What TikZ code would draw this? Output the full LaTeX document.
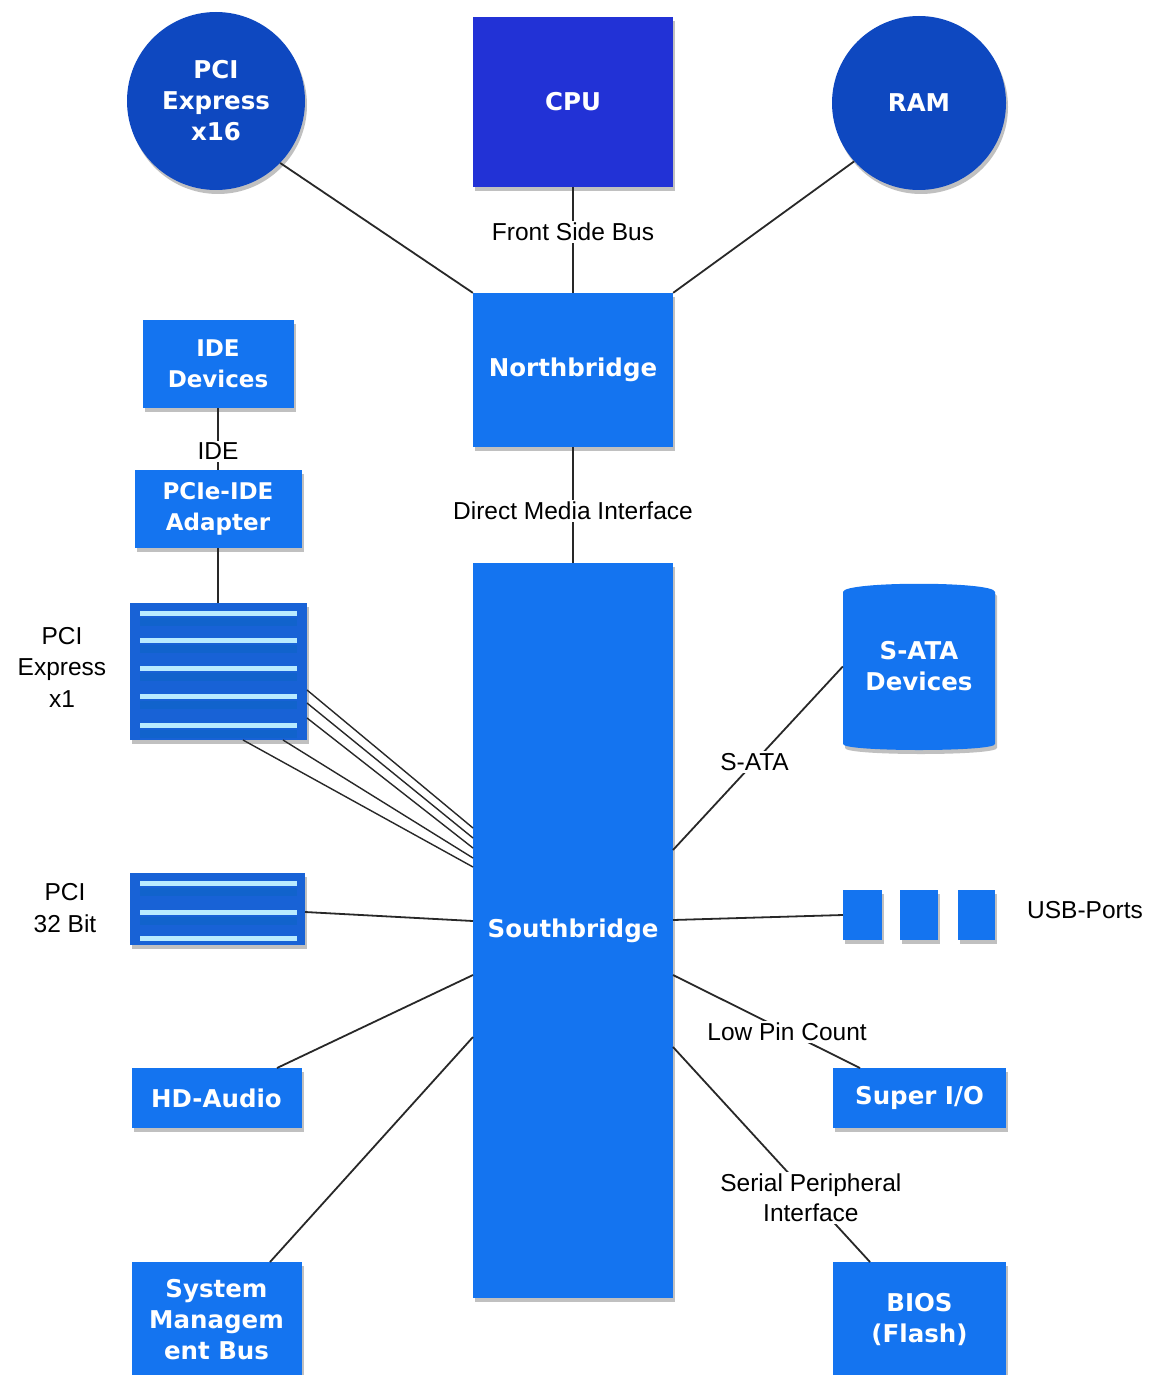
\documentclass[tikz,border=0pt]{standalone}
\usepackage{fontspec}
\setmainfont{Liberation Sans}
\newfontfamily\wf{DejaVu Sans}
\usetikzlibrary{shadows,calc}
\definecolor{lightb}{RGB}{20,116,240}
\definecolor{darkb}{RGB}{14,72,192}
\definecolor{cpub}{RGB}{34,50,214}
\definecolor{slotb}{RGB}{24,98,214}
\definecolor{stripe}{RGB}{185,235,255}
\definecolor{line}{RGB}{40,40,40}
\tikzset{
  shad/.style={drop shadow={shadow xshift=2pt,shadow yshift=-4pt,opacity=.35,fill=black!70}},
  box/.style={rectangle,fill=lightb,text=white,align=center,inner sep=0pt,shad,
    font=\wf\bfseries\fontsize{24.5}{31}\selectfont},
  circ/.style={circle,fill=darkb,text=white,align=center,inner sep=0pt,shad,
    font=\wf\bfseries\fontsize{24.5}{31}\selectfont},
  lab/.style={fill=white,text=black,inner sep=2pt,align=center,
    font=\fontsize{24.5}{30}\selectfont},
  plainlab/.style={text=black,inner sep=0pt,align=center,
    font=\fontsize{24.5}{31.5}\selectfont},
  conn/.style={draw=line,line width=1.8pt},
}
\begin{document}
\begin{tikzpicture}[x=1pt,y=-1pt]
\useasboundingbox (0,0) rectangle (1153,1375);
\fill[white] (0,0) rectangle (1153,1375);

\node[circ,minimum size=178] (pcie16) at (216,101) {PCI\\Express\\x16};
\node[box,fill=cpub,minimum width=200,minimum height=170] (cpu) at (573,102) {CPU};
\node[circ,minimum size=174] (ram) at (919,103) {RAM};
\node[box,minimum width=200,minimum height=154] (nb) at (573,370) {Northbridge};
\node[box,minimum width=200,minimum height=735] (sb) at (573,930.5) {Southbridge};

\node[box,minimum width=151,minimum height=88,font=\wf\bfseries\fontsize{23}{31}\selectfont] (ide) at (218,364) {IDE\\Devices};
\node[box,minimum width=167,minimum height=78,font=\wf\bfseries\fontsize{23}{31}\selectfont] (adapter) at (218,509) {PCIe-IDE\\Adapter};

\node[box,fill=slotb,minimum width=177,minimum height=137] (pcix1) at (218,671.5) {};
\foreach \yy in {613,640,668,696,725}{
  \fill[lightb!85!black] (140,\yy+5) rectangle (297,\yy+13);
  \fill[stripe] (140,\yy-2.5) rectangle (297,\yy+2.5);
}
\node[box,fill=slotb,minimum width=175,minimum height=72] (pci32) at (217.5,909) {};
\foreach \yy in {883,912}{
  \fill[lightb!85!black] (140,\yy+5) rectangle (297,\yy+13);
}
\foreach \yy in {883,912,938}{
  \fill[stripe] (140,\yy-2.5) rectangle (297,\yy+2.5);
}
\node[plainlab] (lx1) at (62,667) {PCI\\Express\\x1};
\node[plainlab] (l32) at (65,908) {PCI\\32 Bit};

\node[box,minimum width=170,minimum height=60] (hda) at (216.5,1098) {HD-Audio};
\node[box,minimum width=170,minimum height=116] (smb) at (216.5,1320) {System\\Managem\\ent Bus};

% S-ATA cylinder
\fill[lightb,shad] (843,592) -- (843,744) .. controls (843,752) and (995,752) .. (995,744)
  -- (995,592) .. controls (995,581) and (843,581) .. (843,592) -- cycle;
\node[rectangle,inner sep=0pt,minimum width=152,minimum height=167,text=white,align=center,
  font=\wf\bfseries\fontsize{24.5}{31}\selectfont] (sata) at (919,666.5) {S-ATA\\Devices};

\node[box,minimum width=39,minimum height=50] (usb1) at (862.5,915) {};
\node[box,minimum width=38,minimum height=50] (usb2) at (919,915) {};
\node[box,minimum width=37,minimum height=50] (usb3) at (976.5,915) {};
\node[plainlab] (lusb) at (1085,910) {USB-Ports};

\node[box,minimum width=173,minimum height=60] (sio) at (919.5,1098) {Super I/O};
\node[box,minimum width=173,minimum height=116] (bios) at (919.5,1320) {BIOS\\(Flash)};

% ---- free connector ends
\coordinate (x1a) at (307,690);
\coordinate (x1b) at (307,703);
\coordinate (x1c) at (307,718);
\coordinate (x1d) at (283,740);
\coordinate (x1e) at (243,740);
\coordinate (sb1) at (473,828);
\coordinate (sb2) at (473,838);
\coordinate (sb3) at (473,848);
\coordinate (sb4) at (473,858);
\coordinate (sb5) at (473,867);
\coordinate (sbpci) at (473,921);
\coordinate (pcis) at (305,912);
\coordinate (sbhda) at (473,975);
\coordinate (hdat) at (277,1068);
\coordinate (sbsmb) at (473,1037);
\coordinate (smbt) at (270,1262);
\coordinate (sbsata) at (673,850);
\coordinate (sbusb) at (673,920);
\coordinate (sblpc) at (673,975);
\coordinate (siot) at (860,1068);
\coordinate (sbspi) at (673,1047);
\coordinate (biost) at (870,1262);

% ---- connectors
\draw[conn] (pcie16.-44) -- (nb.north west);
\draw[conn] (ram.-138) -- (nb.north east);
\draw[conn] (cpu.south) -- node[lab,pos=.42] (lfsb) {Front Side Bus} (nb.north);
\draw[conn] (nb.south) -- node[lab,pos=.55] (ldmi) {Direct Media Interface} (sb.north);
\draw[conn] (ide.south) -- node[lab,pos=.7] (lide) {IDE} (adapter.north);
\draw[conn] (adapter.south) -- (pcix1.north);
\draw[conn,line width=1.4pt] (x1a) -- (sb1);
\draw[conn,line width=1.4pt] (x1b) -- (sb2);
\draw[conn,line width=1.4pt] (x1c) -- (sb3);
\draw[conn,line width=1.4pt] (x1d) -- (sb4);
\draw[conn,line width=1.4pt] (x1e) -- (sb5);
\draw[conn] (pcis) -- (sbpci);
\draw[conn] (sbhda) -- (hdat);
\draw[conn] (sbsmb) -- (smbt);
\draw[conn] (sbsata) -- node[lab,pos=.48] (lsata) {S-ATA} (sata.west);
\draw[conn] (sbusb) -- (usb1.west);
\draw[conn] (sblpc) -- node[lab,pos=.61] (llpc) {Low Pin Count} (siot);
\draw[conn] (sbspi) -- node[lab,pos=.70] (lspi) {Serial Peripheral\\Interface} (biost);
\end{tikzpicture}
\end{document}
